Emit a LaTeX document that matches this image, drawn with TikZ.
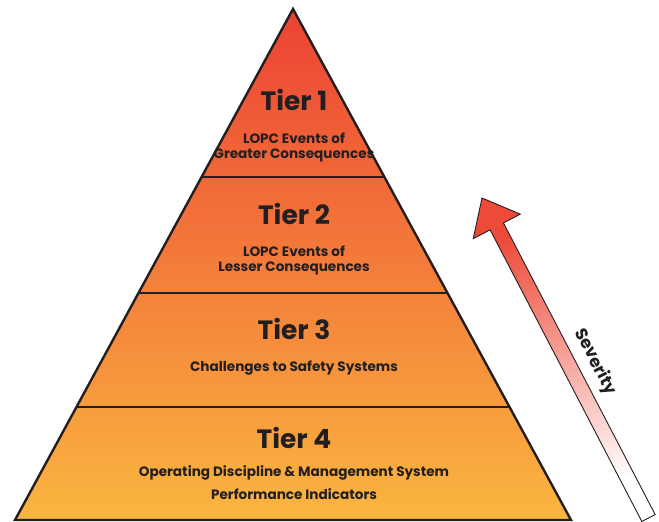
\documentclass[tikz,border=0pt]{standalone}
\usepackage{fontspec}
\setmainfont{Poppins}
\usetikzlibrary{calc}
\definecolor{txt}{RGB}{35,31,32}
\definecolor{pyrtop}{RGB}{236,66,52}
\definecolor{pyrmid}{RGB}{243,128,58}
\definecolor{pyrbot}{RGB}{250,182,64}
\definecolor{arrred}{RGB}{238,74,58}
\definecolor{arrmid}{RGB}{245,150,128}
\tikzset{
  tiertitle/.style={text=txt,font=\fontsize{26.5}{30}\selectfont\bfseries,inner sep=0pt},
  tiersub/.style={text=txt,font=\fontsize{13.6}{15.5}\selectfont\bfseries,inner sep=0pt,align=center},
  outline/.style={draw=txt,line width=2.4pt,line join=miter},
  divider/.style={draw=txt,line width=2.4pt},
}
\begin{document}
\begin{tikzpicture}[x=1pt,y=-1pt]
\useasboundingbox (0,0) rectangle (659,522);
% pyramid
\coordinate (apex) at (293,9);
\coordinate (bl) at (15,520);
\coordinate (br) at (571,520);
\shade[top color=pyrtop,middle color=pyrmid,bottom color=pyrbot] (apex) -- (bl) -- (br) -- cycle;
\coordinate (l1) at ($(apex)!0.3288!(bl)$);
\coordinate (r1) at ($(apex)!0.3288!(br)$);
\coordinate (l2) at ($(apex)!0.5558!(bl)$);
\coordinate (r2) at ($(apex)!0.5558!(br)$);
\coordinate (l3) at ($(apex)!0.7789!(bl)$);
\coordinate (r3) at ($(apex)!0.7789!(br)$);
\draw[divider] (l1) -- (r1);
\draw[divider] (l2) -- (r2);
\draw[divider] (l3) -- (r3);
\draw[outline] (apex) -- (bl) -- (br) -- cycle;
% texts
\node[tiertitle] (t1) at (294,100) {Tier 1};
\node[tiersub] (s1) at (294,147.5) {LOPC Events of\\Greater Consequences};
\node[tiertitle] (t2) at (294,214) {Tier 2};
\node[tiersub] (s2) at (294,260.5) {LOPC Events of\\Lesser Consequences};
\node[tiertitle] (t3) at (294,329) {Tier 3};
\node[tiersub] (s3) at (294,368) {Challenges to Safety Systems};
\node[tiertitle] (t4) at (294,438) {Tier 4};
\node[tiersub,font=\fontsize{13.6}{23}\selectfont\bfseries] (s4) at (294,482.5) {Operating Discipline \& Management System\\Performance Indicators};
% severity arrow
\coordinate (T) at (648.5,518);
\coordinate (P) at (482,198);
\coordinate (B) at ($(P)!32pt!(T)$);
\coordinate (ta) at ($(T)!7.5pt!90:(P)$);
\coordinate (tb) at ($(T)!7.5pt!-90:(P)$);
\coordinate (ba) at ($(B)!7.5pt!-90:(P)$);
\coordinate (bb) at ($(B)!7.5pt!90:(P)$);
\coordinate (wa) at ($(B)!26.5pt!-90:(P)$);
\coordinate (wb) at ($(B)!26.5pt!90:(P)$);
\shade[top color=arrred,middle color=arrmid,bottom color=white,shading angle=27.5,draw=txt,line width=0.9pt,line join=miter]
  (ta) -- (bb) -- (wb) -- (P) -- (wa) -- (ba) -- (tb) -- cycle;
\node[text=txt,font=\fontsize{17}{20}\selectfont\bfseries,rotate=-62.5,inner sep=0pt] (sev) at (595,362) {Severity};
\end{tikzpicture}
\end{document}
